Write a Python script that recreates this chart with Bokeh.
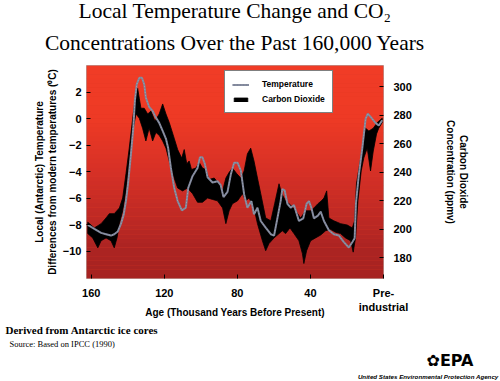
from bokeh.plotting import figure
from bokeh.models import (Range1d, LinearAxis, FixedTicker, BoxAnnotation, Title,
                          Legend, LegendItem, ColumnDataSource)
from bokeh.embed import file_html
from bokeh.resources import INLINE

# ---------------- data ----------------
temp_age = [161.9,158.3,154.6,151.9,149.2,147.4,145.5,143.7,142.2,141.0,139.7,138.3,137.0,136.1,
            135.1,133.7,132.2,131.0,130.1,128.3,126.4,124.6,122.8,120.9,119.1,117.9,116.4,114.6,
            112.7,110.4,108.2,106.9,104.5,101.8,100.5,99.1,97.8,96.3,93.6,90.9,89.1,87.6,85.4,
            83.6,81.8,79.9,78.1,76.3,74.5,72.3,70.9,69.0,67.2,64.5,61.7,59.9,58.1,56.3,55.4,
            54.1,52.6,50.8,49.0,46.3,43.9,42.1,40.8,39.5,38.1,35.9,34.4,32.6,29.9,27.2,24.4,
            21.7,19.0,17.1,15.8,15.1,13.5,11.6,9.8,8.6,6.7,4.4,2.6,0.7]
temp_val = [-8.0,-8.3,-8.6,-8.7,-8.8,-8.7,-8.5,-7.9,-7.2,-6.2,-4.7,-2.7,-0.7,1.4,2.6,3.1,3.1,
            2.6,1.6,0.9,0.6,0.1,-0.3,-0.9,-1.5,-2.2,-3.7,-5.2,-6.2,-6.9,-6.7,-5.2,-4.3,-3.7,
            -2.9,-2.9,-3.4,-4.4,-4.8,-4.7,-5.0,-5.9,-5.5,-4.2,-3.3,-3.3,-3.9,-5.7,-6.7,-6.2,
            -7.2,-6.7,-7.7,-8.2,-8.7,-8.8,-7.5,-6.2,-5.3,-5.4,-6.4,-6.7,-6.5,-7.7,-7.5,-6.4,
            -6.2,-6.7,-7.5,-7.3,-7.0,-7.7,-8.4,-8.7,-8.8,-9.3,-9.7,-9.3,-9.0,-6.4,-4.2,-2.2,
            0.0,0.4,0.1,-0.3,-0.5,-0.1]

co2_hi_age = [161.9,158.3,154.6,151.9,150.1,147.4,144.6,142.8,141.0,139.2,137.3,136.1,134.6,
              133.7,132.8,131.0,129.1,127.3,125.1,122.8,120.9,119.1,117.3,114.6,112.7,110.5,
              109.1,107.7,106.4,105.1,102.7,100.9,99.1,97.3,95.5,92.7,90.0,88.1,86.3,84.5,82.7,
              80.3,78.1,76.3,74.5,72.7,70.9,69.0,67.2,64.5,61.7,59.6,57.2,55.7,53.6,50.8,48.1,
              45.4,42.6,39.9,38.1,35.9,34.0,32.6,31.1,29.9,27.2,23.5,19.8,17.1,15.8,14.8,13.0,
              11.1,9.8,8.0,5.6,3.4,0.7]
co2_hi = [205,201,204,208,211,211,215,222,239,257,278,290,299,292,285,285,281,283,276,281,288,
          281,275,264,256,250,256,246,248,242,243,247,243,242,235,236,232,227,236,240,243,239,
          236,241,253,257,248,236,225,208,206,218,232,225,220,217,213,208,213,213,215,218,220,
          222,227,208,206,204,203,201,206,232,246,260,271,269,271,275,278]

co2_lo_age = [161.9,159.2,156.4,154.6,151.9,149.2,147.4,145.9,144.6,142.8,141.0,139.2,137.3,
              135.5,133.7,131.9,130.1,128.3,126.4,124.6,122.8,120.9,119.1,117.3,114.6,112.7,
              110.0,107.3,104.5,101.8,99.1,96.3,93.6,90.9,88.1,86.3,84.5,82.7,79.9,77.2,75.4,
              73.6,70.9,69.0,66.3,64.5,62.7,59.9,57.2,55.4,53.6,51.2,49.0,46.3,44.4,43.6,42.1,
              39.9,37.2,34.4,31.7,29.0,26.2,23.5,20.8,18.0,16.6,15.3,14.0,12.2,10.8,8.9,7.1,
              5.6,3.8,2.6,0.7]
co2_lo = [197,194,187,192,194,192,187,194,204,213,227,248,269,281,278,271,262,271,262,268,266,
          262,257,248,236,229,227,229,225,219,219,222,221,220,215,204,213,218,220,225,220,222,
          215,204,192,185,190,194,197,199,197,201,197,192,183,176,185,192,194,196,199,200,198,
          197,194,192,184,194,220,241,250,257,241,255,267,271,275]

age_ticks = [160, 120, 80, 40, 0]
age_tick_labels = {0: "Pre-\nindustrial"}
temp_ticks = [-10, -8, -6, -4, -2, 0, 2]
co2_ticks = [180, 200, 220, 240, 260, 280, 300]

SANS = "Liberation Sans"
SERIF = "Liberation Serif"

# ---------------- figure ----------------
p = figure(width=500, height=381, output_backend="svg", toolbar_location=None,
           x_range=Range1d(162.6, 0), y_range=Range1d(-12.04, 4.03),
           min_border_left=86, min_border_right=117, min_border_top=65, min_border_bottom=103)
p.title_location = None
p.extra_y_ranges = {"co2": Range1d(165.5, 315.0)}
p.xgrid.visible = False
p.ygrid.visible = False
p.background_fill_color = "#e03a26"
p.border_fill_color = "white"
p.outline_line_color = "#8a8a8a"
p.outline_line_dash = "1 1"
p.outline_line_width = 1

# background gradient (decoration)
stops = [(0.00, (240, 60, 38)), (0.25, (238, 58, 37)), (0.50, (214, 48, 38)),
         (0.75, (186, 40, 36)), (0.85, (172, 36, 34)), (1.00, (166, 35, 33))]
def grad(f):
    for (f0, c0), (f1, c1) in zip(stops[:-1], stops[1:]):
        if f0 <= f <= f1:
            t = (f - f0) / (f1 - f0)
            return "#%02x%02x%02x" % tuple(int(round(a + (b - a) * t)) for a, b in zip(c0, c1))
    return "#%02x%02x%02x" % stops[-1][1]
ylo, yhi = p.y_range.start, p.y_range.end
nb = 48
for i in range(nb):
    top = yhi - (yhi - ylo) * i / nb
    bot = yhi - (yhi - ylo) * (i + 1.02) / nb
    c = grad((i + 0.5) / nb)
    p.add_layout(BoxAnnotation(top=top, bottom=bot, fill_color=c, fill_alpha=1.0,
                               line_color=None, level="underlay"))

# CO2 band
band_x = co2_hi_age + co2_lo_age[::-1]
band_y = co2_hi + co2_lo[::-1]
band = p.patch(band_x, band_y, y_range_name="co2", fill_color="black",
               line_color="black", line_width=0.8)

# temperature line
src = ColumnDataSource(dict(age=temp_age, t=temp_val))
t1 = p.line("age", "t", source=src, line_color="#7f869a", line_width=2.0)
t2 = p.line("age", "t", source=src, line_color="#a9adba", line_width=0.7, line_dash="1 2")

# axes
ax = p.xaxis[0]
ax.ticker = FixedTicker(ticks=age_ticks)
ax.major_label_overrides = age_tick_labels
ax.axis_label = "Age (Thousand Years Before Present)"
ay = p.yaxis[0]
ay.ticker = FixedTicker(ticks=temp_ticks)
ay.axis_label = "Local (Antarctic) Temperature\nDifferences from modern temperatures (\u2070C)"
ar = LinearAxis(y_range_name="co2", ticker=FixedTicker(ticks=co2_ticks),
                axis_label="Carbon Dioxide\nConcentration (ppmv)")
p.add_layout(ar, "right")
for a in (ax, ay, ar):
    a.axis_line_color = None
    a.major_tick_in = 4
    a.major_tick_out = 0
    a.major_tick_line_color = "black"
    a.minor_tick_line_color = None
    a.major_label_text_font = SANS
    a.major_label_text_font_style = "bold"
    a.major_label_text_font_size = "11px"
    a.major_label_text_color = "black"
    a.axis_label_text_font = SANS
    a.axis_label_text_font_style = "bold"
    a.axis_label_text_font_size = "10px"
    a.axis_label_text_color = "black"
ax.major_label_standoff = 8
ax.axis_label_standoff = -9
ay.major_label_standoff = 5
ay.axis_label_standoff = 2
ar.major_label_standoff = 10
ar.axis_label_standoff = 30

# legend
legend = Legend(items=[LegendItem(label="Temperature", renderers=[t1, t2]),
                       LegendItem(label="Carbon Dioxide", renderers=[band])],
                location=(138, 165), orientation="vertical",
                background_fill_color="white", background_fill_alpha=1.0,
                border_line_color="black", border_line_width=1,
                label_text_font=SANS, label_text_font_style="bold",
                label_text_font_size="8.5px", label_text_color="black",
                glyph_width=17, glyph_height=5, label_height=12, label_standoff=13,
                padding=7, spacing=3, margin=0)
p.add_layout(legend, "center")

# titles (above, stacked outward) and notes (below, stacked downward)
def ttl(text, side, size, font=SERIF, style="normal", align="center", offset=0, standoff=0):
    p.add_layout(Title(text=text, align=align, offset=offset, standoff=standoff,
                       text_font=font, text_font_size=size, text_font_style=style,
                       text_color="black"), side)

ttl("Concentrations Over the Past 160,000 Years", "above", "21.5px", offset=1.5, standoff=21)
ttl("Local Temperature Change and CO\u2082", "above", "21.5px", offset=1.5, standoff=-8)
ttl("Derived from Antarctic ice cores", "below", "11px", style="bold", align="left",
    offset=-81, standoff=2)
ttl("Source: Based on IPCC (1990)", "below", "8.5px", align="left", offset=-77, standoff=0)
ttl("\u273fEPA", "below", "16px", font="DejaVu Sans", style="bold", align="right",
    offset=-90, standoff=0)
ttl("United States Environmental Protection Agency", "below", "6.2px", font=SANS,
    style="bold italic", align="right", offset=-115, standoff=2)

open("out.html", "w").write(file_html(p, INLINE))
